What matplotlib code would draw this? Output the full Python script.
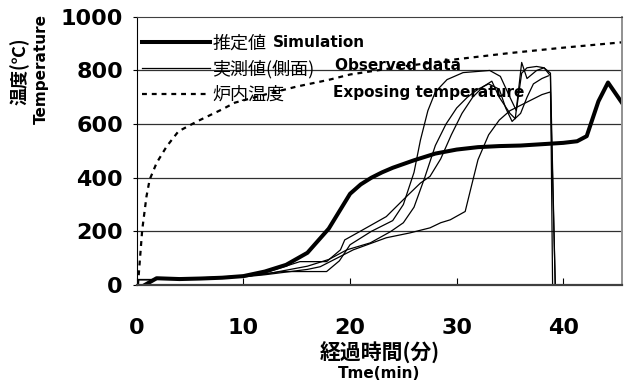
import matplotlib
matplotlib.use("Agg")
import matplotlib.pyplot as plt

plt.rcParams['font.family'] = ['Noto Sans CJK JP', 'DejaVu Sans']

# 推定値 Simulation
sim_t = [0.75, 1.85, 4, 6, 8, 10, 12, 14, 16, 18, 19, 20, 21, 22, 23, 24, 26, 28, 30, 32, 34, 36, 38, 40, 41.3, 42.2, 43.3, 44.2, 45.5]
sim_T = [0, 25, 22, 24, 27, 33, 50, 75, 120, 210, 275, 340, 375, 400, 420, 437, 465, 490, 505, 514, 518, 520, 525, 530, 536, 555, 685, 755, 680]

# 炉内温度 Exposing temperature
fur_t = [0.1, 0.5, 0.9, 1.2, 1.85, 2.8, 3.9, 5.7, 7.95, 9.2, 12, 15, 18, 20, 25, 30, 35, 40, 45.5]
fur_T = [0, 205, 330, 393, 455, 517, 573, 611, 654, 680, 710, 740, 765, 785, 815, 842, 865, 885, 905]

# 実測値(側面) Observed data (four gauges)
obs1_t = [0, 1.5, 2.5, 5, 8, 10, 12, 13.7, 17.8, 19, 20, 22, 24, 25, 26, 26.6, 27.3, 28, 29.1, 30.6, 33.1, 34.1, 35, 35.6, 36.1, 36.6, 37.5, 38.2, 38.8, 39.0]
obs1_T = [20, 20, 22, 24, 28, 33, 42, 50, 50, 90, 150, 200, 240, 300, 420, 540, 650, 720, 766, 792, 800, 778, 700, 650, 790, 810, 815, 810, 790, 0]

obs2_t = [0, 1.5, 2.5, 5, 8, 10, 12, 15.3, 17.8, 19.1, 19.5, 20.9, 23.4, 25.3, 26.6, 27.5, 28.5, 29.5, 30.5, 31.5, 32.5, 33.3, 34, 35, 35.5, 36.1, 36.6, 37.5, 38.2, 38.8, 39.25]
obs2_T = [20, 20, 22, 25, 30, 35, 45, 87, 87, 131, 168, 199, 255, 330, 380, 405, 470, 560, 640, 700, 740, 760, 700, 640, 620, 830, 770, 800, 810, 780, 0]

obs3_t = [0, 1.5, 2.5, 5, 8, 10, 12, 14, 16, 18, 19.7, 21.9, 23.8, 25, 26, 27, 28, 29, 30, 31, 32, 33, 34, 34.6, 35.2, 36, 36.6, 37.2, 38, 38.6]
obs3_T = [20, 20, 22, 24, 28, 32, 40, 55, 70, 95, 131, 157, 199, 232, 290, 400, 520, 600, 660, 700, 730, 750, 730, 660, 610, 640, 700, 750, 770, 780]

obs4_t = [0, 1.5, 2.5, 5, 8, 10, 12, 14, 16, 17.2, 20.3, 23.4, 25.6, 27.5, 28.5, 29.4, 30.8, 31.3, 32, 33, 34, 35, 36, 37, 38, 38.8, 39.25]
obs4_T = [20, 20, 22, 24, 27, 30, 38, 48, 58, 68, 131, 176, 194, 213, 232, 243, 274, 355, 467, 560, 615, 650, 670, 690, 710, 720, 0]

fig = plt.figure(figsize=(6.25, 3.83), dpi=100)
ax = fig.add_axes([0.219, 0.256, 0.776, 0.700])

ax.plot(sim_t, sim_T, color="black", lw=2.9, label="推定値", solid_joinstyle="round")
ax.plot(obs1_t, obs1_T, color="black", lw=0.9, label="実測値(側面)")
ax.plot(obs2_t, obs2_T, color="black", lw=0.9)
ax.plot(obs3_t, obs3_T, color="black", lw=0.9)
ax.plot(obs4_t, obs4_T, color="black", lw=0.9)
ax.plot(fur_t, fur_T, color="black", lw=1.6, ls=(0, (2.2, 2.2)), label="炉内温度")

ax.set_xlim(0, 45.5)
ax.set_ylim(0, 1000)
ax.set_xticks([0, 10, 20, 30, 40])
ax.set_yticks([0, 200, 400, 600, 800, 1000])
for y in [200, 400, 600, 800]:
    ax.axhline(y, color="#303030", lw=0.9, zorder=0)

ax.tick_params(axis="x", direction="in", length=5, pad=24, labelsize=16)
ax.tick_params(axis="y", direction="out", length=3, pad=7, labelsize=16)
for lab in ax.get_xticklabels() + ax.get_yticklabels():
    lab.set_fontweight("bold")
    lab.set_family("DejaVu Sans")

ax.spines["left"].set_color("black")
ax.spines["bottom"].set_color("#404040")
ax.spines["bottom"].set_linewidth(1.6)
ax.spines["top"].set_color("#404040")
ax.spines["right"].set_color("#909090")
ax.spines["right"].set_linewidth(1.4)

ax.legend(loc="upper left", bbox_to_anchor=(0.01, 0.935), frameon=False,
          fontsize=13, handlelength=3.8, handletextpad=0.1, labelspacing=0.42,
          borderpad=0, borderaxespad=0)

ax.text(0.280, 0.903, "Simulation", transform=ax.transAxes, fontsize=11,
        fontweight="bold", va="center", family="DejaVu Sans")
ax.text(0.408, 0.818, "Observed data", transform=ax.transAxes, fontsize=11,
        fontweight="bold", va="center", family="DejaVu Sans")
ax.text(0.404, 0.716, "Exposing temperature", transform=ax.transAxes, fontsize=11,
        fontweight="bold", va="center", family="DejaVu Sans")

fig.text(0.607, 0.078, "経過時間(分)", ha="center", va="center", fontsize=15, fontweight="bold")
fig.text(0.607, 0.026, "Tme(min)", ha="center", va="center", fontsize=11, fontweight="bold",
         family="DejaVu Sans")
fig.text(0.032, 0.815, "温度(℃)", ha="center", va="center", rotation=90, fontsize=13, fontweight="bold")
fig.text(0.066, 0.82, "Temperature", ha="center", va="center", rotation=90, fontsize=11,
         fontweight="bold", family="DejaVu Sans")

fig.savefig("out.png", dpi=100)
